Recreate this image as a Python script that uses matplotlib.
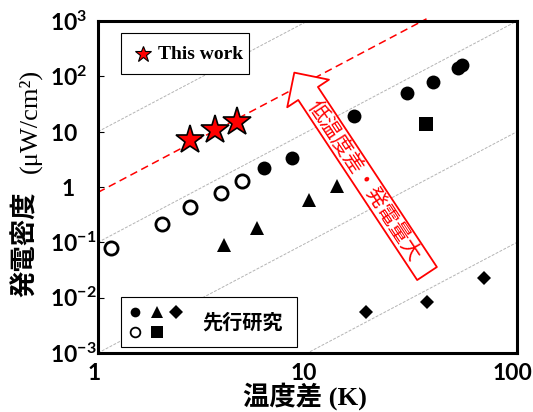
import numpy as np
import matplotlib
matplotlib.use("Agg")
import matplotlib.pyplot as plt
import matplotlib.transforms as mtransforms
from matplotlib.patches import FancyArrowPatch, Rectangle, ArrowStyle

plt.rcParams['mathtext.fontset'] = 'custom'
plt.rcParams['mathtext.rm'] = 'Lato:bold'
plt.rcParams['mathtext.bf'] = 'Lato:bold'
plt.rcParams['mathtext.it'] = 'Lato:bold'

JP = 'Noto Sans CJK JP'
SERIF = 'Liberation Serif'

# temperature difference (K) vs power density (uW/cm2)
this_dt = [2.75, 3.62, 4.59]
this_p = [7.1, 10.7, 15.2]

circ_dt = [6.2, 8.43, 16.7, 29.9, 39.7, 52.3, 54.6]
circ_p = [2.2, 3.35, 19.2, 50, 79, 142, 161]

open_dt = [1.15, 2.02, 2.75, 3.86, 4.87]
open_p = [0.079, 0.214, 0.435, 0.78, 1.28]

tri_dt = [3.99, 5.74, 10.2, 13.8]
tri_p = [0.089, 0.18, 0.58, 1.04]

sq_dt = [36.8]
sq_p = [13.8]

dia_dt = [19.0, 37.2, 69.6]
dia_p = [0.0055, 0.0083, 0.0226]

# guide lines P = c * dT^2
guide_coef = [10, 0.1, 1e-3, 1e-5]
this_coef = 0.8
this_dt_end = 37.0

x_ticks = [1, 10, 100]
x_ticklabels = ['1', '10', '100']
y_exp = [-3, -2, -1, 0, 1, 2, 3]

arrow_tip = (8.65, 116.7)
arrow_tail = (37.2, 0.0273)
arrow_text_pos = (18.6, 1.26)
arrow_text = '低温度差・発電量大'

W, H = 533, 412
fig = plt.figure(figsize=(W / 100, H / 100), dpi=100)
ax = fig.add_axes([98 / W, 59 / H, 419 / W, 332 / H])
ax.set_xscale('log')
ax.set_yscale('log')
ax.set_xlim(1, 100)
ax.set_ylim(1e-3, 1e3)

dt = np.array([1.0, 100.0])
for c in guide_coef:
    ax.plot(dt, c * dt ** 2, color='#b4b4b4', lw=0.7, ls=(0, (3, 1.5)), zorder=1)

dt_red = np.array([1.0, this_dt_end])
ax.plot(dt_red, this_coef * dt_red ** 2, color='red', lw=1.1, ls=(0, (5, 3)),
        zorder=2, clip_on=False)

ax.plot(circ_dt, circ_p, 'o', color='black', ms=10, mew=0, zorder=3)
ax.plot(open_dt, open_p, 'o', mfc='white', mec='black', ms=9.5, mew=2, zorder=3)
ax.plot(tri_dt, tri_p, '^', color='black', ms=10, mew=0, zorder=3)
ax.plot(sq_dt, sq_p, 's', color='black', ms=9.5, mew=0, zorder=3)
ax.plot(dia_dt, dia_p, 'D', color='black', ms=7.2, mew=0, zorder=3)
ax.plot(this_dt, this_p, '*', mfc='red', mec='black', ms=21, mew=1.2, zorder=6)

# big outlined arrow with text
arr = FancyArrowPatch(arrow_tail, arrow_tip,
                      arrowstyle=ArrowStyle.Simple(head_length=18, head_width=36, tail_width=17),
                      mutation_scale=1, fc='white', ec='red', lw=1.3,
                      shrinkA=0, shrinkB=0, zorder=4)
ax.add_patch(arr)
p_tip = ax.transData.transform(arrow_tip)
p_tail = ax.transData.transform(arrow_tail)
ang = np.degrees(np.arctan2(p_tail[1] - p_tip[1], p_tail[0] - p_tip[0]))
ax.text(arrow_text_pos[0], arrow_text_pos[1], arrow_text, rotation=ang,
        rotation_mode='anchor', ha='center', va='center', color='red',
        family=JP, fontsize=15, zorder=5)

# legend boxes
ax.add_patch(Rectangle((0.0549, 0.8404), 0.3055, 0.1226, transform=ax.transAxes,
                       fc='white', ec='black', lw=0.8, zorder=5))
ax.plot([0.1067], [0.9006], '*', mfc='red', mec='black', ms=12, mew=0.8,
        transform=ax.transAxes, zorder=6, clip_on=False)
ax.text(0.1432, 0.9006, 'This work', transform=ax.transAxes, ha='left', va='center',
        family=SERIF, weight='bold', fontsize=14, zorder=6)

ax.add_patch(Rectangle((0.0549, 0.0172), 0.4193, 0.1524, transform=ax.transAxes,
                       fc='white', ec='black', lw=0.8, zorder=5))
ax.plot([0.0883], [0.1244], 'o', color='black', ms=7, mew=0, transform=ax.transAxes, zorder=6)
ax.plot([0.1401], [0.1244], '^', color='black', ms=9, mew=0, transform=ax.transAxes, zorder=6)
ax.plot([0.1862], [0.1235], 'D', color='black', ms=7.5, mew=0, transform=ax.transAxes, zorder=6)
ax.plot([0.0883], [0.0633], 'o', mfc='white', mec='black', ms=7, mew=1.3,
        transform=ax.transAxes, zorder=6)
ax.plot([0.1401], [0.0633], 's', color='black', ms=8, mew=0, transform=ax.transAxes, zorder=6)
ax.text(0.2482, 0.0943, '先行研究', transform=ax.transAxes, ha='left', va='center',
        family=JP, weight='bold', fontsize=14.5, zorder=6)

# axes styling
for s in ax.spines.values():
    s.set_linewidth(2.2)
    s.set_color('black')

ax.minorticks_off()
ax.set_xticks(x_ticks)
ax.set_xticklabels(x_ticklabels, family='Lato', weight='bold', fontsize=16.5)
ax.tick_params(axis='x', length=0, pad=7)
shift = mtransforms.ScaledTranslation(-4 / 100, 0, fig.dpi_scale_trans)
for lbl in ax.get_xticklabels():
    lbl.set_transform(lbl.get_transform() + shift)

ylabels = []
for e in y_exp:
    if e == 0:
        ylabels.append(r'$\hspace{0.58}\mathbf{1}$')
    elif e == 1:
        ylabels.append(r'$\mathbf{10}$')
    else:
        ylabels.append(r'$\mathbf{10^{%d}}$' % e)
ax.set_yticks([10.0 ** e for e in y_exp])
ax.set_yticklabels(ylabels, fontsize=16.5, ha='left')
ax.tick_params(axis='y', direction='in', length=4, width=0.8, pad=34.6)

# y label: bold kanji part + serif unit
fig.text(25 / W, (H - 244.5) / H, '発電密度', rotation=90, ha='center', va='center',
         family=JP, weight='bold', fontsize=19)
fig.text(36.5 / W, (H - 120.5) / H, '(μW/cm²)', rotation=90, rotation_mode='anchor',
         ha='center', va='baseline', family=[SERIF, 'DejaVu Serif'], fontsize=19)

fig.text(305 / W, (H - 396.5) / H, '温度差 (K)', ha='center', va='center',
         family=[SERIF, JP], weight='bold', fontsize=19)

fig.savefig('out.png', dpi=100)
